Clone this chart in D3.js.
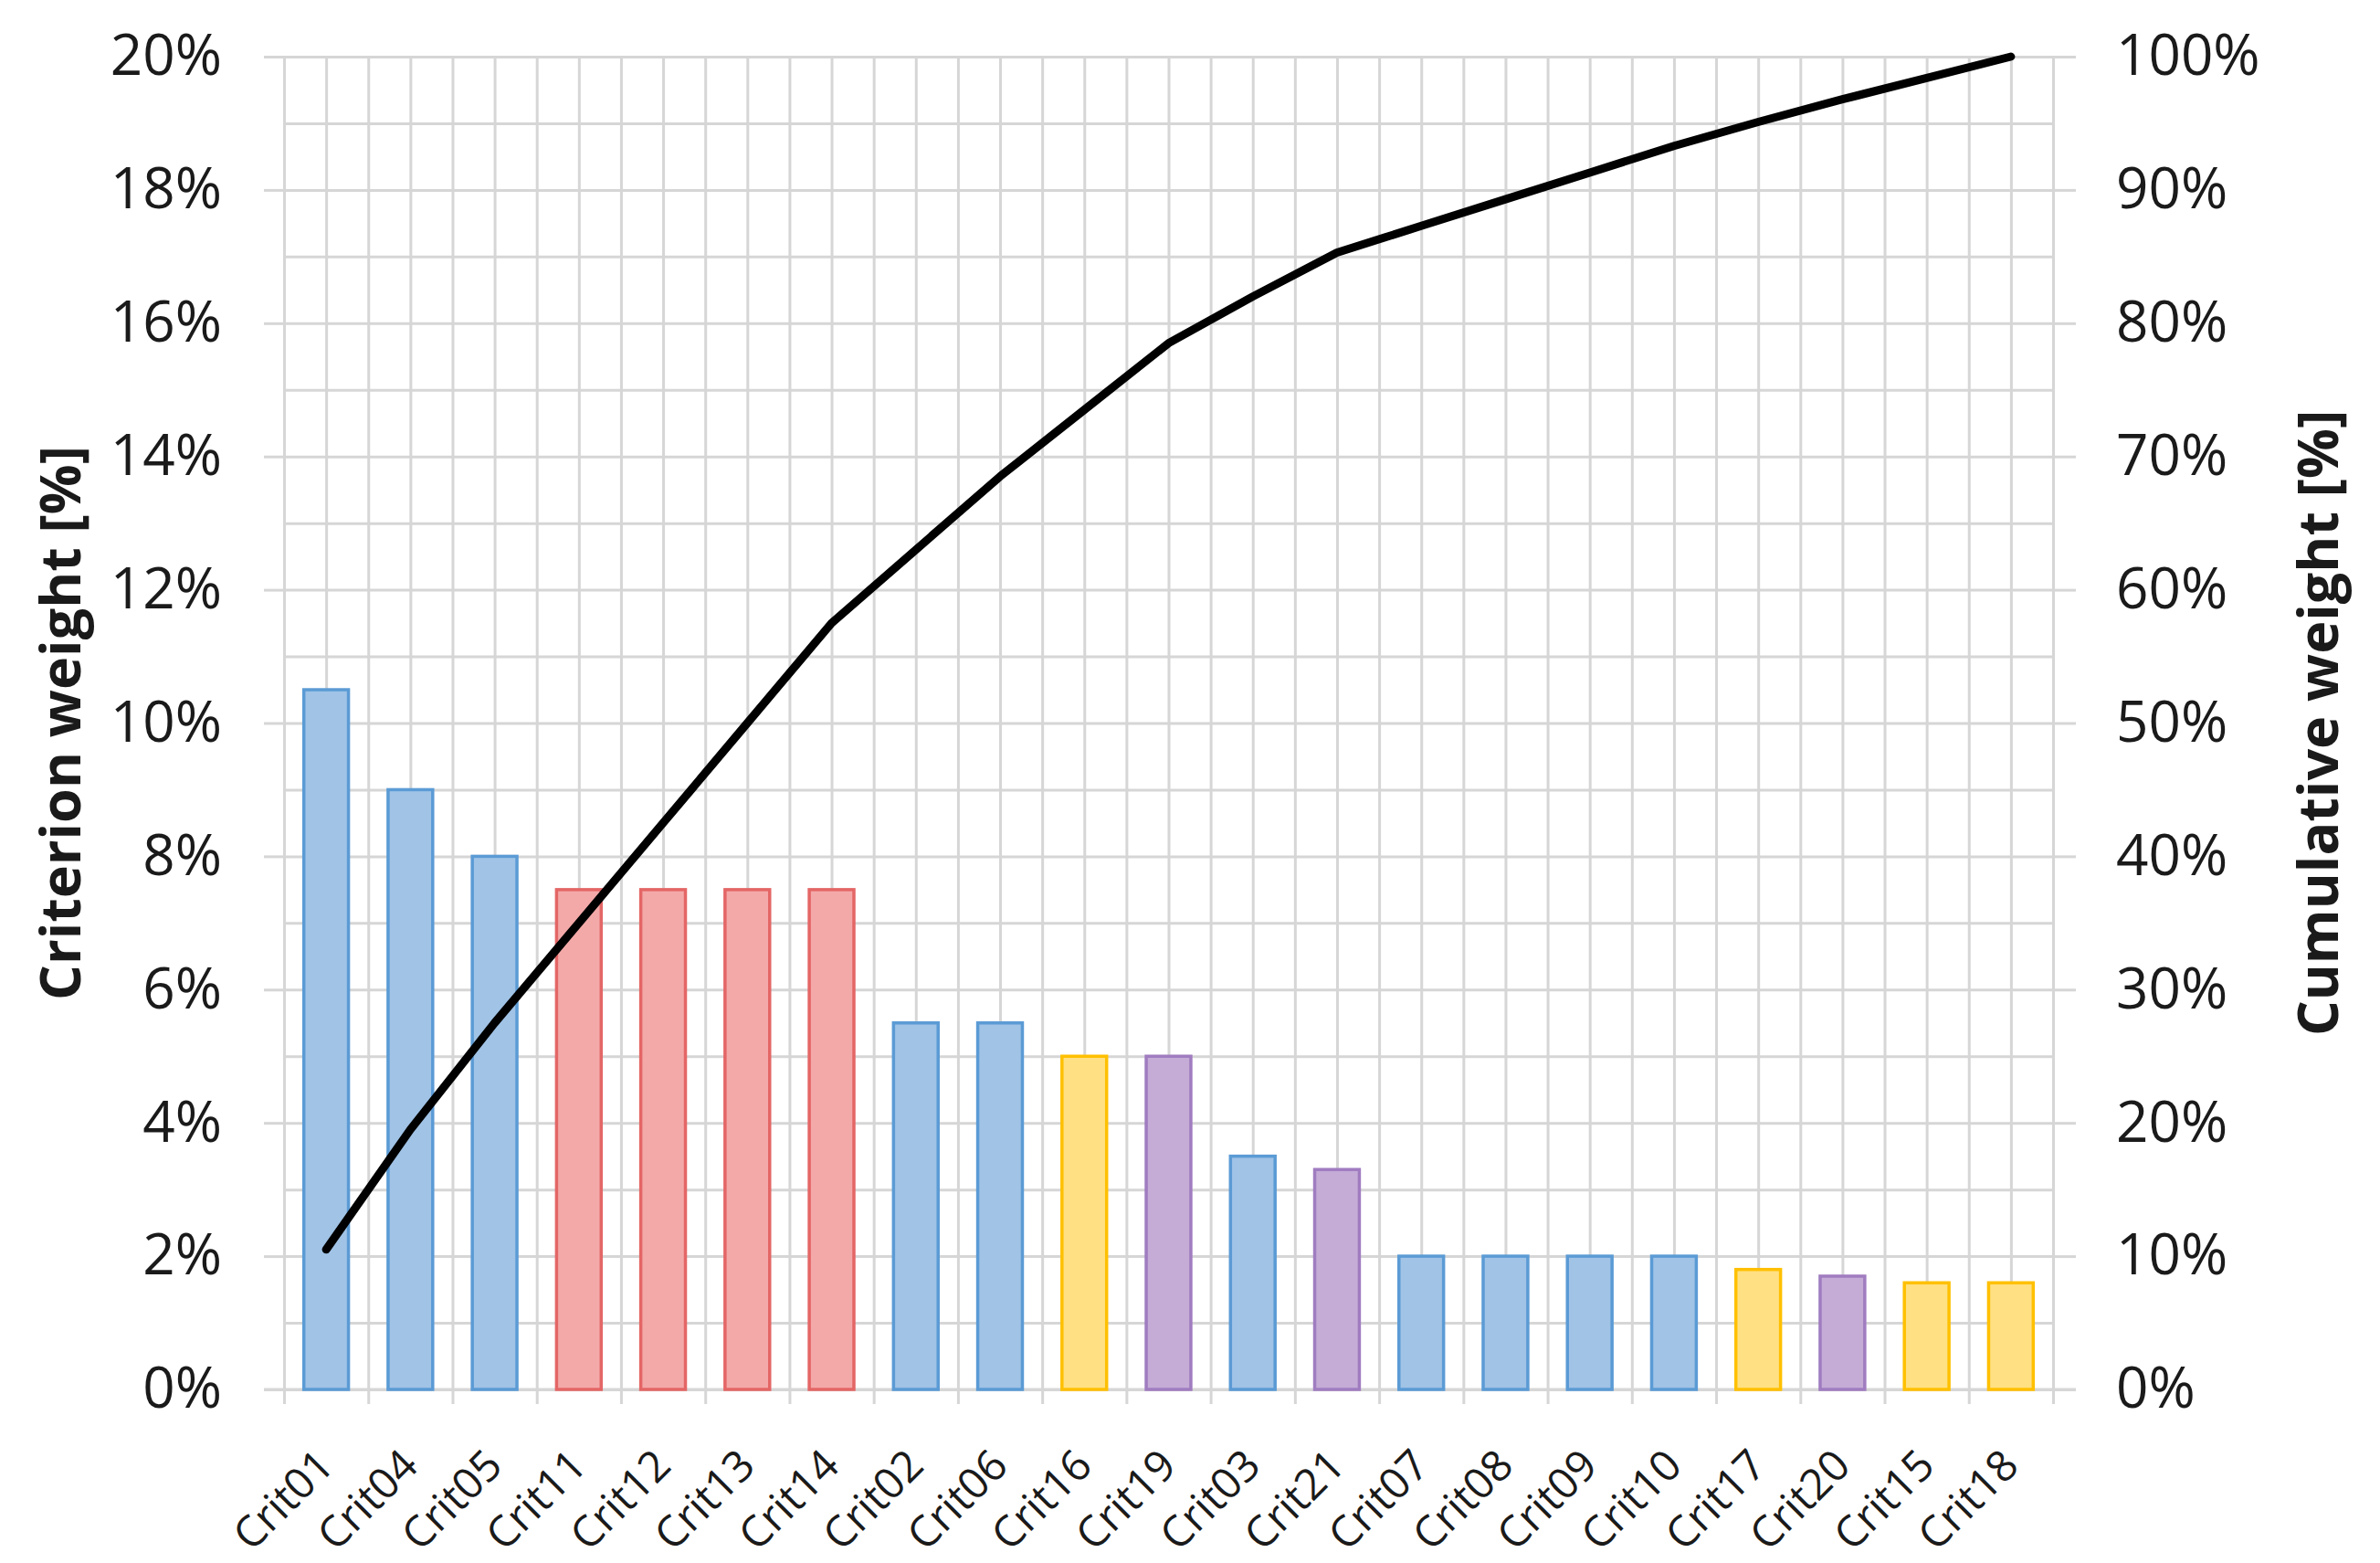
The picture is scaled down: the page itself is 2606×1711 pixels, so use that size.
<!DOCTYPE html>
<html>
<head>
<meta charset="utf-8">
<script src="https://cdn.jsdelivr.net/npm/d3@7"></script>
<style>
  body { margin: 0; background: #fff; }
  text { font-family: "Open Sans", sans-serif; fill: #1a1a1a; }
</style>
</head>
<body>
<div id="chart"></div>
<script>
let totalWidth = 2606, totalHeight = 1711;
let margin = { top: 62, right: 358, bottom: 190, left: 311 },
  width = totalWidth - margin.left - margin.right,
  height = totalHeight - margin.top - margin.bottom;

// data
const categories = ["Crit01", "Crit04", "Crit05", "Crit11", "Crit12", "Crit13", "Crit14",
  "Crit02", "Crit06", "Crit16", "Crit19", "Crit03", "Crit21", "Crit07", "Crit08", "Crit09",
  "Crit10", "Crit17", "Crit20", "Crit15", "Crit18"];
const weights = [0.105, 0.090, 0.080, 0.075, 0.075, 0.075, 0.075, 0.055, 0.055, 0.050, 0.050,
  0.035, 0.033, 0.020, 0.020, 0.020, 0.020, 0.018, 0.017, 0.016, 0.016];
const cumulative = [0.105, 0.195, 0.275, 0.350, 0.425, 0.500, 0.575, 0.630, 0.685, 0.735, 0.785,
  0.820, 0.853, 0.873, 0.893, 0.913, 0.933, 0.951, 0.968, 0.984, 1.000];
const groups = ["blue", "blue", "blue", "red", "red", "red", "red", "blue", "blue", "yellow", "purple",
  "blue", "purple", "blue", "blue", "blue", "blue", "yellow", "purple", "yellow", "yellow"];
const leftTicks = [0, 0.02, 0.04, 0.06, 0.08, 0.10, 0.12, 0.14, 0.16, 0.18, 0.20];
const rightTicks = [0, 0.1, 0.2, 0.3, 0.4, 0.5, 0.6, 0.7, 0.8, 0.9, 1.0];

const fills = { blue: "#a0c3e6", red: "#f4a9a9", yellow: "#ffe083", purple: "#c4acd6" };
const strokes = { blue: "#5b9bd5", red: "#e46666", yellow: "#ffc000", purple: "#a07cc0" };

const svg = d3.select("#chart")
  .append("svg")
  .attr("width", totalWidth)
  .attr("height", totalHeight);

const x = d3.scaleBand()
  .domain(categories)
  .range([margin.left, margin.left + width])
  .paddingInner(0.47)
  .paddingOuter(0.235);

// index scale for the boundaries / gridlines
const xi = d3.scaleLinear()
  .domain([0, categories.length])
  .range([margin.left, margin.left + width]);

const y = d3.scaleLinear()
  .domain([0, 0.20])
  .range([margin.top + height, margin.top]);

const y2 = d3.scaleLinear()
  .domain([0, 1])
  .range([margin.top + height, margin.top]);

const gridColor = "#d6d6d6";

// horizontal gridlines every 1%
svg.append("g")
  .attr("transform", `translate(${margin.left},0)`)
  .call(d3.axisLeft(y).tickValues(d3.range(0, 0.2001, 0.01)).tickSize(-width).tickFormat(""))
  .call(g => g.select(".domain").remove())
  .call(g => g.selectAll("line").attr("stroke", gridColor).attr("stroke-width", 3));

// vertical gridlines at every half category
svg.append("g")
  .attr("transform", `translate(0,${margin.top})`)
  .call(d3.axisTop(xi).tickValues(d3.range(0, categories.length + 0.01, 0.5)).tickSize(-height).tickFormat(""))
  .call(g => g.select(".domain").remove())
  .call(g => g.selectAll("line").attr("stroke", gridColor).attr("stroke-width", 3));

// left axis
svg.append("g")
  .attr("transform", `translate(${margin.left},0)`)
  .call(d3.axisLeft(y).tickValues(leftTicks).tickSize(22).tickPadding(46).tickFormat(d3.format(".0%")))
  .call(g => g.selectAll("line, path").attr("stroke", gridColor).attr("stroke-width", 3))
  .call(g => g.selectAll("text").attr("font-size", 62).attr("font-family", "Open Sans").attr("fill", "#1a1a1a"));

// right axis
svg.append("g")
  .attr("transform", `translate(${margin.left + width},0)`)
  .call(d3.axisRight(y2).tickValues(rightTicks).tickSize(25).tickPadding(44).tickFormat(d3.format(".0%")))
  .call(g => g.selectAll("line, path").attr("stroke", gridColor).attr("stroke-width", 3))
  .call(g => g.selectAll("text").attr("font-size", 62).attr("font-family", "Open Sans").attr("fill", "#1a1a1a"));

// bottom axis, ticks at category boundaries
svg.append("g")
  .attr("transform", `translate(0,${margin.top + height})`)
  .call(d3.axisBottom(xi).tickValues(d3.range(0, categories.length + 1)).tickSize(16).tickFormat(""))
  .call(g => g.select(".domain").attr("d", `M${margin.left - 22},0H${margin.left + width + 25}`))
  .call(g => g.selectAll("line, path").attr("stroke", gridColor).attr("stroke-width", 3));

// bars
svg.selectAll("rect.bar")
  .data(categories)
  .enter()
  .append("rect")
  .attr("class", "bar")
  .attr("x", d => x(d))
  .attr("y", (d, i) => y(weights[i]))
  .attr("width", x.bandwidth())
  .attr("height", (d, i) => y(0) - y(weights[i]))
  .attr("fill", (d, i) => fills[groups[i]])
  .attr("stroke", (d, i) => strokes[groups[i]])
  .attr("stroke-width", 3.5);

// cumulative line
const line = d3.line()
  .x((d, i) => x(categories[i]) + x.bandwidth() / 2)
  .y(d => y2(d));

svg.append("path")
  .datum(cumulative)
  .attr("d", line)
  .attr("fill", "none")
  .attr("stroke", "#000")
  .attr("stroke-width", 9)
  .attr("stroke-linecap", "round")
  .attr("stroke-linejoin", "round");

// category labels, rotated
svg.selectAll("text.cat")
  .data(categories)
  .enter()
  .append("text")
  .attr("class", "cat")
  .attr("text-anchor", "end")
  .attr("font-size", 47)
  .attr("transform", d => `translate(${x(d) + x.bandwidth() / 2 + 11},${margin.top + height + 86}) rotate(-45)`)
  .text(d => d);

// axis titles
svg.append("text")
  .attr("text-anchor", "middle")
  .attr("font-size", 61)
  .attr("font-weight", "bold")
  .attr("transform", `translate(${88},${margin.top + height / 2}) rotate(-90)`)
  .text("Criterion weight [%]");

svg.append("text")
  .attr("text-anchor", "middle")
  .attr("font-size", 61)
  .attr("font-weight", "bold")
  .attr("transform", `translate(${2560},${margin.top + height / 2}) rotate(-90)`)
  .text("Cumulative weight [%]");
</script>
</body>
</html>
